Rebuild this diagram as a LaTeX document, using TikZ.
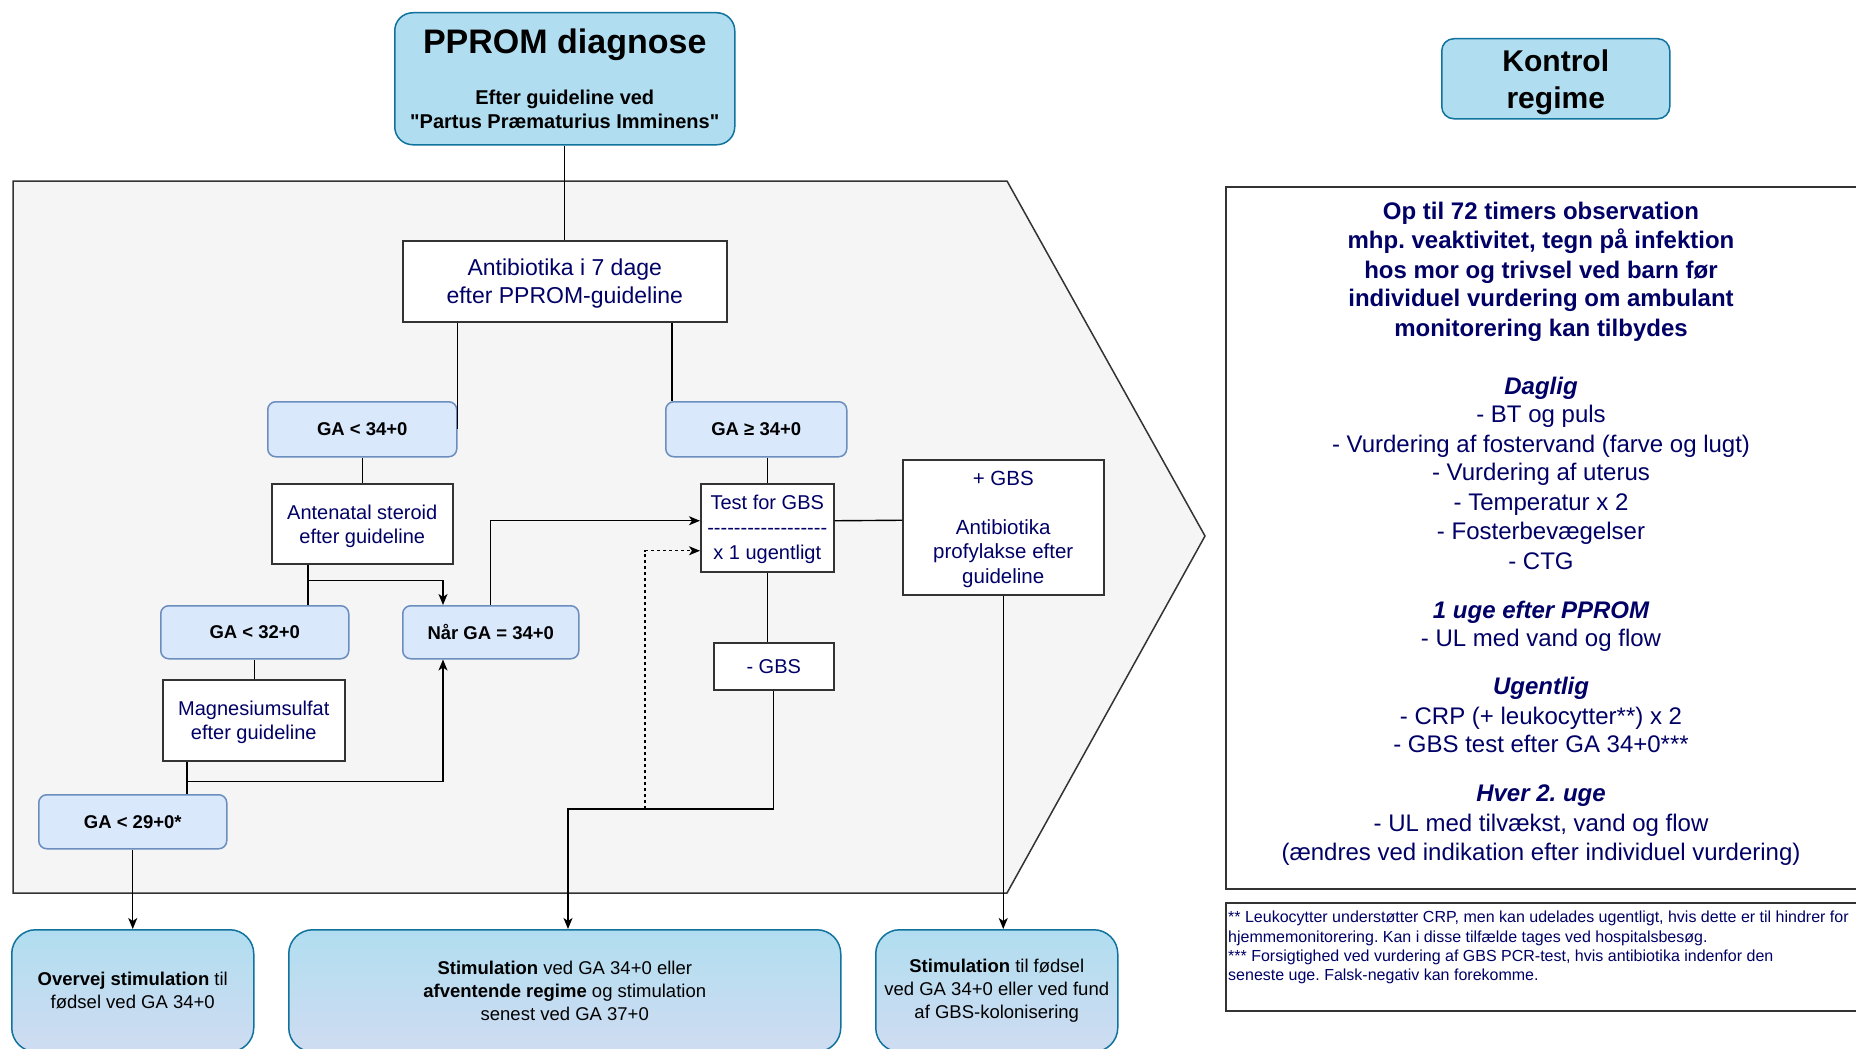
\documentclass[tikz,border=0pt]{standalone}
\usepackage{fontspec}
\setmainfont{Liberation Sans}
\newfontfamily\qf{Liberation Sans}
\usetikzlibrary{arrows.meta,calc}
\definecolor{navy}{HTML}{000066}
\definecolor{hdrfill}{HTML}{B1DDF0}
\definecolor{hdrdraw}{HTML}{10739E}
\definecolor{gafill}{HTML}{DAE8FC}
\definecolor{gadraw}{HTML}{6C8EBF}
\definecolor{bgfill}{HTML}{F5F5F5}
\definecolor{lineclr}{HTML}{333333}
\definecolor{botfill}{HTML}{CFDCF1}
\newcommand{\fsz}[2]{\fontsize{#1}{#2}\selectfont}
\frenchspacing
\begin{document}
\begin{tikzpicture}[x=1pt,y=-1pt,
  hdrbox/.style={draw=hdrdraw, fill=hdrfill, line width=1.5pt, rounded corners=18pt, anchor=north west, inner sep=0pt, align=center, text depth=0pt},
  gabox/.style={draw=gadraw, fill=gafill, line width=1.5pt, rounded corners=8pt, anchor=north west, inner sep=0pt, align=center, font=\fsz{18.5}{22}\bfseries},
  wbox/.style={draw=lineclr, fill=white, line width=1.5pt, anchor=north west, inner sep=0pt, align=center, text=navy, font=\fsz{20}{24.5}, text depth=0pt},
  botbox/.style={draw=hdrdraw, top color=hdrfill, bottom color=botfill, rounded corners=24pt, line width=1.5pt, anchor=north west, inner sep=0pt, align=center, font=\fsz{18.5}{23.3}},
  panelbox/.style={draw=lineclr, fill=white, line width=1.5pt, anchor=north west, inner sep=0pt},
  conn/.style={draw=black, line width=1.4pt},
  arr/.style={conn, -{Stealth[length=11pt,width=9pt,inset=3pt]}},
  dotarr/.style={arr, dash pattern=on 3pt off 3pt},
  ptxt/.style={anchor=base, text=navy, inner sep=0pt}
]
\useasboundingbox (0,0) rectangle (1856,1049);
\fill[white] (0,0) rectangle (1856,1049);
\clip (0,0) rectangle (1856,1049);

% container pentagon
\draw[draw=lineclr, fill=bgfill, line width=1.5pt] (13,181) -- (1007,181) -- (1205,536) -- (1007,893) -- (13,893) -- cycle;

% header boxes
\node[hdrbox, minimum width=340pt, minimum height=132pt, font=\fsz{20}{24}\bfseries, text depth=-3pt] (pprom) at (394,12)
  {{\fsz{34}{40}\bfseries PPROM diagnose}\\[27pt]Efter guideline ved\\{\qf "}Partus Præmaturius Imminens{\qf "}};
\node[hdrbox, minimum width=228pt, minimum height=80pt, rounded corners=12pt, font=\fsz{30}{37}\bfseries] (kontrol) at (1441,38)
  {Kontrol\\regime};

% flow boxes
\node[wbox, minimum width=324pt, minimum height=81pt, font=\fsz{23}{27.3}] (ab) at (402,240) {Antibiotika i 7 dage\\efter PPROM-guideline};
\node[gabox, minimum width=189pt, minimum height=55pt] (ga34) at (267,401) {GA < 34+0};
\node[gabox, minimum width=181pt, minimum height=55pt] (gage) at (665,401) {GA ≥ 34+0};
\node[wbox, minimum width=181pt, minimum height=80pt, font=\fsz{20}{24}] (ant) at (271,483) {Antenatal steroid\\efter guideline};
\node[wbox, minimum width=133pt, minimum height=88pt, font=\fsz{20}{25}] (test) at (700,483)
  {Test for GBS\\-{}-{}-{}-{}-{}-{}-{}-{}-{}-{}-{}-{}-{}-{}-{}-{}-{}-\\x 1 ugentligt};
\node[wbox, minimum width=201pt, minimum height=135pt, font=\fsz{20.5}{24.5}] (pos) at (902,459)
  {+ GBS\\[24.5pt]Antibiotika\\profylakse efter\\guideline};
\node[gabox, minimum width=188pt, minimum height=53pt] (ga32) at (160,605) {GA < 32+0};
\node[gabox, minimum width=176pt, minimum height=53pt] (naar) at (402,605) {Når GA = 34+0};
\node[wbox, minimum width=182pt, minimum height=81pt, font=\fsz{20}{24.8}] (mag) at (162,679) {Magnesiumsulfat\\efter guideline};
\node[gabox, minimum width=188pt, minimum height=54pt] (ga29) at (38,794) {GA < 29+0*};
\node[wbox, minimum width=120pt, minimum height=47pt] (neg) at (713,642) {- GBS};

% bottom outcome boxes
\node[botbox, minimum width=242pt, minimum height=122pt] (b1) at (11,929)
  {{\bfseries Overvej stimulation} til\\fødsel ved GA 34+0};
\node[botbox, minimum width=552pt, minimum height=122pt] (b2) at (288,929)
  {{\bfseries Stimulation} ved GA 34+0 eller\\{\bfseries afventende regime} og stimulation\\senest ved GA 37+0};
\node[botbox, minimum width=242pt, minimum height=122pt] (b3) at (875,929)
  {{\bfseries Stimulation} til fødsel\\ved GA 34+0 eller ved fund\\af GBS-kolonisering};

% connectors
\draw[conn] (pprom.south) -- (ab.north);
\draw[conn] (ab.south -| ga34.east) -- (ga34.east);
\draw[conn] ([xshift=7pt]gage.north west |- ab.south) -- ([xshift=7pt]gage.north west);
\draw[conn] (ga34.south) -- (ant.north);
\draw[conn] (test.north |- gage.south) -- (test.north);
\draw[conn] ([yshift=7pt]test.east) -- ([yshift=7pt]pos.west);
\draw[conn] ([xshift=37pt]ant.south west) -- ([xshift=37pt]ant.south west |- ga32.north);
\draw[arr] ($(ant.south west)+(37,16)$) -| ([xshift=41pt]naar.north west);
\draw[arr] (naar.north) |- ([yshift=7pt]test.west);
\draw[conn] (ga32.south) -- (ga32.south |- mag.north);
\draw[conn] ([xshift=25pt]mag.south west) -- ([xshift=25pt]mag.south west |- ga29.north);
\draw[arr] ($(mag.south west)+(25,20)$) -| ([xshift=41pt]naar.south west);
\draw[arr] (ga29.south) -- (ga29.south |- b1.north);
\draw[conn] (test.south) -- (test.south |- neg.north);
\coordinate (jn) at (568,809);
\coordinate (dt) at (645,809);
\draw[arr] (neg.south) |- (jn) -- (jn |- b2.north);
\draw[dotarr] (dt) |- ([yshift=-23pt]test.west);
\draw[arr] (pos.south) -- (pos.south |- b3.north);

% right panel
\node[panelbox, minimum width=632pt, minimum height=702pt] (panel) at (1225,186) {};
\foreach \yy/\tt [count=\i] in {219/Op til 72 timers observation, 248.5/{mhp. veaktivitet, tegn på infektion}, 278/hos mor og trivsel ved barn før, 306.5/individuel vurdering om ambulant, 336/monitorering kan tilbydes}
  \node[ptxt, font=\fsz{24}{29}\bfseries] (pb\i) at (1541,\yy) {\tt};
\foreach \yy/\tt [count=\i] in {394/Daglig, 618/1 uge efter PPROM, 694.5/Ugentlig, 801/Hver 2. uge}
  \node[ptxt, font=\fsz{24}{29}\bfseries\itshape] (pi\i) at (1541,\yy) {\tt};
\foreach \yy/\tt [count=\i] in {422.5/- BT og puls, 452/- Vurdering af fostervand (farve og lugt), 480.5/- Vurdering af uterus, 510/- Temperatur x 2, 539.5/- Fosterbevægelser, 569/- CTG, 646/- UL med vand og flow, 724/- CRP (+ leukocytter**) x 2, 752.5/- GBS test efter GA 34+0***, 831/{- UL med tilvækst, vand og flow}, 860/(ændres ved indikation efter individuel vurdering)}
  \node[ptxt, font=\fsz{24}{29}] (pr\i) at (1541,\yy) {\tt};

% footnote box
\node[panelbox, minimum width=632pt, minimum height=108pt] (foot) at (1225,902) {};
\node[anchor=north west, inner sep=0pt, align=left, text=navy, font=\fsz{16}{19.3}] (foottxt) at (1228,911)
  {** Leukocytter understøtter CRP, men kan udelades ugentligt, hvis dette er til hindrer for\\
   hjemmemonitorering. Kan i disse tilfælde tages ved hospitalsbesøg.\\
   *** Forsigtighed ved vurdering af GBS PCR-test, hvis antibiotika indenfor den\\
   seneste uge. Falsk-negativ kan forekomme.};
\end{tikzpicture}
\end{document}
